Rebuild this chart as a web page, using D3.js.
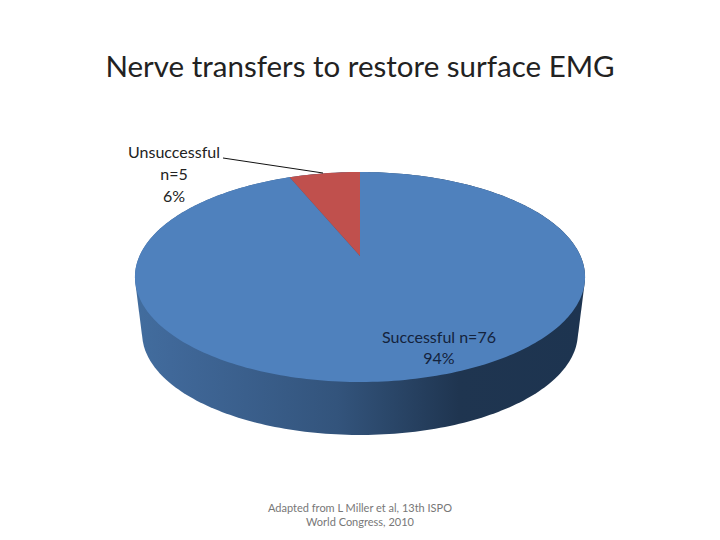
<!DOCTYPE html>
<html>
<head>
<meta charset="utf-8">
<script src="https://cdn.jsdelivr.net/npm/d3@7/dist/d3.min.js"></script>
<style>
html, body { margin: 0; background: #fff; }
text { font-family: Lato, "Open Sans", sans-serif; }
</style>
</head>
<body>
<svg id="chart" width="720" height="540"></svg>
<script>
const categories = ['Successful', 'Unsuccessful'];
const counts = [76, 5];
const colors = ['#4f81bd', '#c0504d'];
const labelSuccess = ['Successful n=76', '94%'];
const labelFail = ['Unsuccessful', 'n=5', '6%'];
const noteLines = ['Adapted from L Miller et al, 13th ISPO', 'World Congress, 2010'];

const svg = d3.select('#chart');

// tilted disc: perspective of a unit circle, apex of the slices sits above the ellipse centre
const cx = 360, apexY = 256, a = 220.5, b = 100.8, k = -0.2;
function project(angle, s = 1, dy = 0) {
    const X = Math.sin(angle), Y = -Math.cos(angle);
    const w = 1 + k * Y;
    return [cx + s * a * X / w, apexY + dy + s * b * Y / w];
}

const pie = d3.pie().sort(null).value((d, i) => counts[i]);
const slices = pie(categories);
const line = d3.line();

function samples(a0, a1, s, dy) {
    const n = Math.max(2, Math.ceil((a1 - a0) / 0.02));
    return d3.range(n + 1).map(i => project(a0 + (a1 - a0) * i / n, s, dy));
}

// side wall
const grad = svg.append('defs').append('linearGradient')
    .attr('id', 'wall')
    .attr('gradientUnits', 'userSpaceOnUse')
    .attr('x1', 135).attr('x2', 585).attr('y1', 0).attr('y2', 0);
[[0, '#426d9e'], [0.08, '#406899'], [0.45, '#33547c'], [0.72, '#1f3550'], [1, '#1d3450']]
    .forEach(d => grad.append('stop').attr('offset', d[0]).attr('stop-color', d[1]));

const outline = samples(0, 2 * Math.PI, 1, 0).concat(samples(0, 2 * Math.PI, 0.968, 57));
svg.append('path')
    .attr('d', line(d3.polygonHull(outline)) + 'Z')
    .attr('fill', 'url(#wall)');

// top of the pie
svg.selectAll('path.slice')
    .data(slices)
    .enter()
    .append('path')
    .attr('class', 'slice')
    .attr('d', d => line([[cx, apexY]].concat(samples(d.startAngle, d.endAngle, 1, 0))) + 'Z')
    .attr('fill', (d, i) => colors[i]);

// title
svg.append('text')
    .attr('x', 360).attr('y', 77)
    .attr('text-anchor', 'middle')
    .attr('font-size', 29.5)
    .attr('fill', '#222')
    .text('Nerve transfers to restore surface EMG');

// leader line
svg.append('line')
    .attr('x1', 223).attr('y1', 158)
    .attr('x2', 323).attr('y2', 173)
    .attr('stroke', '#111')
    .attr('stroke-width', 1);

// data labels
svg.selectAll('text.fail')
    .data(labelFail)
    .enter()
    .append('text')
    .attr('class', 'fail')
    .attr('x', 174)
    .attr('y', (d, i) => 158 + i * 22)
    .attr('text-anchor', 'middle')
    .attr('font-size', 16)
    .attr('fill', '#222')
    .text(d => d);

svg.selectAll('text.ok')
    .data(labelSuccess)
    .enter()
    .append('text')
    .attr('class', 'ok')
    .attr('x', 439)
    .attr('y', (d, i) => 343 + i * 21)
    .attr('text-anchor', 'middle')
    .attr('font-size', 16)
    .attr('fill', '#14233c')
    .text(d => d);

// source note
svg.selectAll('text.note')
    .data(noteLines)
    .enter()
    .append('text')
    .attr('class', 'note')
    .attr('x', 360)
    .attr('y', (d, i) => 512 + i * 14)
    .attr('text-anchor', 'middle')
    .attr('font-size', 11)
    .attr('fill', '#777')
    .text(d => d);
</script>
</body>
</html>
